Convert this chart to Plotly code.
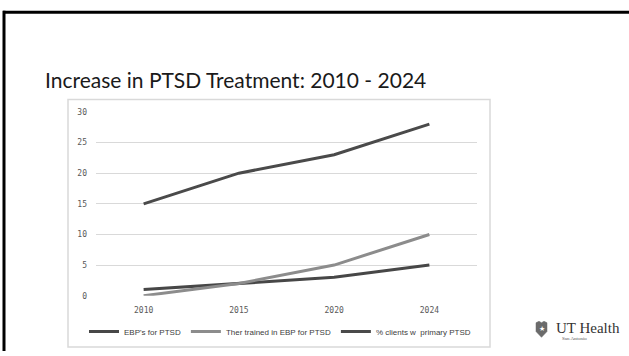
import plotly.graph_objects as go

W, H = 629, 356

years = ["2010", "2015", "2020", "2024"]
ebps = [1, 2, 3, 5]
ther_trained = [0, 2, 5, 10]
pct_clients = [15, 20, 23, 28]
series_names = ["EBP's for PTSD", "Ther trained in EBP for PTSD", "% clients w  primary PTSD"]
y_ticks = [0, 5, 10, 15, 20, 25, 30]
title_text = "Increase in PTSD Treatment: 2010 - 2024"

def px(x):
    return x / W

def py(y):
    return 1 - y / H

fig = go.Figure()
colors = ["#474747", "#8c8c8c", "#4a4a4a"]
for name, vals, c in zip(series_names, [ebps, ther_trained, pct_clients], colors):
    fig.add_trace(go.Scatter(x=years, y=vals, mode="lines", name=name,
                             line=dict(color=c, width=3)))

tick_font = dict(family="DejaVu Sans Mono, Liberation Mono", size=8, color="#595959")
fig.update_layout(
    width=W, height=H,
    margin=dict(l=0, r=0, t=0, b=0),
    paper_bgcolor="white", plot_bgcolor="white",
    showlegend=True,
    legend=dict(orientation="h", x=px(280), xanchor="center", y=py(336), yanchor="middle",
                font=dict(family="Liberation Sans Narrow, Arial Narrow, Liberation Sans", size=8, color="#404040"),
                itemwidth=30, tracegroupgap=0, bgcolor="rgba(0,0,0,0)"),
    xaxis=dict(domain=[px(96), px(477)], type="category", range=[-0.5, 3.5],
               showgrid=False, showline=False, zeroline=False, ticks="",
               ticklabelstandoff=8, tickfont=tick_font, anchor="y"),
    yaxis=dict(domain=[py(299.3), py(110.7)], range=[0, 30], tickvals=y_ticks,
               showgrid=True, gridcolor="#d9d9d9", gridwidth=1, zeroline=False, showline=False,
               ticks="", ticklabelstandoff=8, tickfont=tick_font),
)

shapes = []
# chart frame
shapes.append(dict(type="rect", xref="paper", yref="paper", x0=px(68), x1=px(490), y0=py(352), y1=py(98),
                   line=dict(color="#d9d9d9", width=1.5), fillcolor="rgba(0,0,0,0)", layer="below"))
# slide border (top and left)
shapes.append(dict(type="line", xref="paper", yref="paper", x0=px(3), x1=px(629), y0=py(8.5), y1=py(8.5),
                   line=dict(color="black", width=3)))
shapes.append(dict(type="line", xref="paper", yref="paper", x0=px(4), x1=px(4), y0=py(7), y1=py(356),
                   line=dict(color="black", width=3)))
# shield logo
pts = [(536, 327), (539, 325.5), (541.5, 327), (544, 325.5), (547, 327), (547, 336), (541.5, 342), (536, 336)]
path = "M " + " L ".join(f"{px(x)},{py(y)}" for x, y in pts) + " Z"
shapes.append(dict(type="path", xref="paper", yref="paper", path=path,
                   fillcolor="#6b6b6b", line=dict(color="#6b6b6b", width=0.5)))
fig.update_layout(shapes=shapes)

annotations = [
    dict(text=title_text, x=px(43), y=py(77), xref="paper", yref="paper", xanchor="left", yanchor="middle",
         showarrow=False, font=dict(family="Lato, Carlito, Calibri, sans-serif", size=21, color="#1a1a1a")),
    dict(text="★", x=px(541.5), y=py(333.5), xref="paper", yref="paper", xanchor="center", yanchor="middle",
         showarrow=False, font=dict(family="DejaVu Sans", size=7, color="white")),
    dict(text="UT Health", x=px(554), y=py(332), xref="paper", yref="paper", xanchor="left", yanchor="middle",
         showarrow=False, font=dict(family="Liberation Serif, DejaVu Serif", size=15, color="#333333")),
    dict(text="San Antonio", x=px(560), y=py(343.5), xref="paper", yref="paper", xanchor="left", yanchor="middle",
         showarrow=False, font=dict(family="Liberation Serif, DejaVu Serif", size=5, color="#555555")),
]
fig.update_layout(annotations=annotations)

fig.write_html("out.html")
